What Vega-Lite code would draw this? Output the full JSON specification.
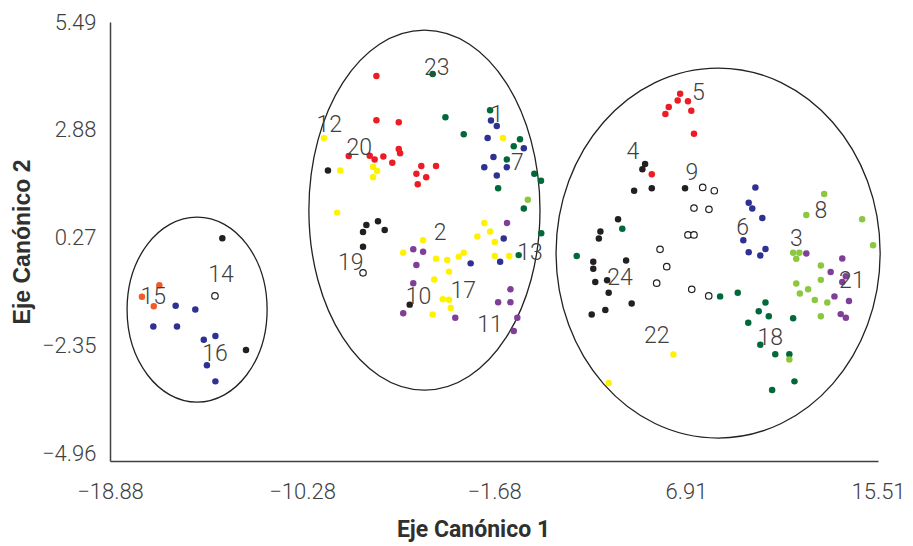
{
  "$schema": "https://vega.github.io/schema/vega-lite/v6.json",
  "width": 768,
  "height": 439,
  "autosize": "none",
  "padding": {"left": 110, "top": 22, "right": 35, "bottom": 85},
  "background": "white",
  "config": {
    "view": {"stroke": null},
    "axis": {
      "grid": false,
      "ticks": false,
      "domainColor": "#404040",
      "domainWidth": 1.5,
      "labelFont": "Roboto",
      "labelFontSize": 22,
      "labelFontWeight": 300,
      "labelColor": "#404040",
      "labelFlush": false,
      "labelOverlap": false,
      "titleFontWeight": "bold",
      "titleColor": "#303030"
    }
  },
  "datasets": {
    "puntos": [
      {"x": -13.85, "y": 0.25, "c": "negro"},
      {"x": -14.18, "y": -1.15, "c": "blanco"},
      {"x": -16.67, "y": -0.89, "c": "naranja"},
      {"x": -17.45, "y": -1.17, "c": "naranja"},
      {"x": -16.92, "y": -1.40, "c": "naranja"},
      {"x": -15.94, "y": -1.39, "c": "azul"},
      {"x": -15.06, "y": -1.48, "c": "azul"},
      {"x": -16.94, "y": -1.89, "c": "azul"},
      {"x": -15.88, "y": -1.89, "c": "azul"},
      {"x": -14.68, "y": -2.21, "c": "azul"},
      {"x": -14.16, "y": -2.12, "c": "azul"},
      {"x": -12.79, "y": -2.46, "c": "negro"},
      {"x": -14.54, "y": -2.83, "c": "azul"},
      {"x": -14.16, "y": -3.22, "c": "azul"},

      {"x": -6.95, "y": 4.18, "c": "rojo"},
      {"x": -4.43, "y": 4.23, "c": "verde"},
      {"x": -1.86, "y": 3.35, "c": "verde"},
      {"x": -1.82, "y": 3.10, "c": "azul"},
      {"x": -1.56, "y": 2.97, "c": "azul"},
      {"x": -6.95, "y": 3.11, "c": "rojo"},
      {"x": -5.95, "y": 3.06, "c": "rojo"},
      {"x": -3.86, "y": 3.18, "c": "verde"},
      {"x": -3.04, "y": 2.77, "c": "verde"},
      {"x": -9.30, "y": 2.68, "c": "amarillo"},
      {"x": -1.97, "y": 2.68, "c": "azul"},
      {"x": -1.28, "y": 2.68, "c": "amarillo"},
      {"x": -0.52, "y": 2.65, "c": "verde"},
      {"x": -0.80, "y": 2.48, "c": "verde"},
      {"x": -0.35, "y": 2.43, "c": "azul"},
      {"x": -8.19, "y": 2.24, "c": "rojo"},
      {"x": -7.25, "y": 2.25, "c": "rojo"},
      {"x": -7.03, "y": 2.16, "c": "rojo"},
      {"x": -6.64, "y": 2.23, "c": "rojo"},
      {"x": -5.95, "y": 2.41, "c": "rojo"},
      {"x": -5.89, "y": 2.31, "c": "rojo"},
      {"x": -6.24, "y": 2.08, "c": "rojo"},
      {"x": -1.71, "y": 2.22, "c": "azul"},
      {"x": -1.11, "y": 2.16, "c": "verde"},
      {"x": -2.12, "y": 1.97, "c": "azul"},
      {"x": -1.11, "y": 1.97, "c": "azul"},
      {"x": -9.12, "y": 1.89, "c": "negro"},
      {"x": -8.57, "y": 1.89, "c": "amarillo"},
      {"x": -7.10, "y": 1.98, "c": "amarillo"},
      {"x": -6.92, "y": 1.88, "c": "amarillo"},
      {"x": -7.10, "y": 1.73, "c": "amarillo"},
      {"x": -4.94, "y": 2.00, "c": "rojo"},
      {"x": -4.28, "y": 2.00, "c": "rojo"},
      {"x": -5.16, "y": 1.81, "c": "rojo"},
      {"x": -4.72, "y": 1.73, "c": "rojo"},
      {"x": -5.10, "y": 1.56, "c": "rojo"},
      {"x": -1.56, "y": 1.77, "c": "azul"},
      {"x": 0.12, "y": 1.81, "c": "verde"},
      {"x": 0.42, "y": 1.64, "c": "verde"},
      {"x": -1.50, "y": 1.46, "c": "verde"},
      {"x": -0.17, "y": 1.18, "c": "verde claro"},
      {"x": -0.35, "y": 0.97, "c": "verde"},
      {"x": -8.71, "y": 0.87, "c": "amarillo"},
      {"x": -7.40, "y": 0.57, "c": "negro"},
      {"x": -6.88, "y": 0.66, "c": "negro"},
      {"x": -6.58, "y": 0.45, "c": "negro"},
      {"x": -7.55, "y": 0.40, "c": "negro"},
      {"x": -7.55, "y": 0.04, "c": "negro"},
      {"x": -7.55, "y": -0.59, "c": "blanco"},
      {"x": -4.86, "y": 0.20, "c": "amarillo"},
      {"x": -5.75, "y": -0.10, "c": "amarillo"},
      {"x": -5.30, "y": -0.02, "c": "morado"},
      {"x": -4.86, "y": -0.08, "c": "morado"},
      {"x": -5.16, "y": -0.40, "c": "morado"},
      {"x": -4.28, "y": -0.25, "c": "amarillo"},
      {"x": -3.78, "y": -0.28, "c": "amarillo"},
      {"x": -3.26, "y": -0.20, "c": "amarillo"},
      {"x": -3.04, "y": -0.10, "c": "amarillo"},
      {"x": -2.73, "y": -0.36, "c": "azul"},
      {"x": -3.70, "y": -0.56, "c": "amarillo"},
      {"x": -4.36, "y": -0.75, "c": "amarillo"},
      {"x": -5.30, "y": -0.84, "c": "morado"},
      {"x": -5.46, "y": -1.36, "c": "negro"},
      {"x": -5.75, "y": -1.57, "c": "morado"},
      {"x": -3.98, "y": -1.23, "c": "amarillo"},
      {"x": -3.70, "y": -1.24, "c": "amarillo"},
      {"x": -3.62, "y": -1.44, "c": "amarillo"},
      {"x": -4.43, "y": -1.60, "c": "amarillo"},
      {"x": -3.42, "y": -1.68, "c": "morado"},
      {"x": -2.12, "y": 0.62, "c": "amarillo"},
      {"x": -1.10, "y": 0.62, "c": "morado"},
      {"x": -1.86, "y": 0.41, "c": "amarillo"},
      {"x": -2.43, "y": 0.29, "c": "amarillo"},
      {"x": -1.65, "y": 0.16, "c": "amarillo"},
      {"x": -1.25, "y": 0.24, "c": "azul"},
      {"x": 0.43, "y": 0.37, "c": "verde"},
      {"x": -1.65, "y": -0.18, "c": "amarillo"},
      {"x": -1.00, "y": -0.18, "c": "amarillo"},
      {"x": -0.58, "y": -0.16, "c": "verde"},
      {"x": -1.41, "y": -0.32, "c": "azul"},
      {"x": -0.95, "y": -0.99, "c": "morado"},
      {"x": -1.50, "y": -1.30, "c": "morado"},
      {"x": -0.95, "y": -1.30, "c": "morado"},
      {"x": -0.64, "y": -1.68, "c": "morado"},
      {"x": -0.80, "y": -2.00, "c": "morado"},

      {"x": 6.65, "y": 3.75, "c": "rojo"},
      {"x": 6.54, "y": 3.59, "c": "rojo"},
      {"x": 7.00, "y": 3.57, "c": "rojo"},
      {"x": 6.14, "y": 3.43, "c": "rojo"},
      {"x": 5.99, "y": 3.26, "c": "rojo"},
      {"x": 7.15, "y": 3.34, "c": "rojo"},
      {"x": 7.27, "y": 2.78, "c": "rojo"},
      {"x": 5.08, "y": 2.05, "c": "negro"},
      {"x": 4.96, "y": 1.92, "c": "negro"},
      {"x": 5.38, "y": 1.80, "c": "rojo"},
      {"x": 4.59, "y": 1.40, "c": "negro"},
      {"x": 5.38, "y": 1.46, "c": "negro"},
      {"x": 6.87, "y": 1.46, "c": "negro"},
      {"x": 7.66, "y": 1.48, "c": "blanco"},
      {"x": 8.18, "y": 1.40, "c": "blanco"},
      {"x": 7.27, "y": 0.98, "c": "blanco"},
      {"x": 7.94, "y": 0.95, "c": "blanco"},
      {"x": 3.87, "y": 0.71, "c": "negro"},
      {"x": 4.06, "y": 0.48, "c": "verde"},
      {"x": 3.08, "y": 0.41, "c": "negro"},
      {"x": 3.01, "y": 0.24, "c": "negro"},
      {"x": 7.00, "y": 0.33, "c": "blanco"},
      {"x": 7.27, "y": 0.33, "c": "blanco"},
      {"x": 5.75, "y": -0.02, "c": "blanco"},
      {"x": 2.02, "y": -0.18, "c": "verde"},
      {"x": 2.76, "y": -0.32, "c": "negro"},
      {"x": 2.76, "y": -0.49, "c": "negro"},
      {"x": 4.23, "y": -0.29, "c": "negro"},
      {"x": 6.05, "y": -0.44, "c": "blanco"},
      {"x": 2.85, "y": -0.81, "c": "negro"},
      {"x": 3.38, "y": -0.77, "c": "negro"},
      {"x": 3.45, "y": -1.07, "c": "negro"},
      {"x": 4.48, "y": -1.33, "c": "negro"},
      {"x": 2.69, "y": -1.60, "c": "negro"},
      {"x": 3.30, "y": -1.49, "c": "negro"},
      {"x": 5.60, "y": -0.84, "c": "blanco"},
      {"x": 7.17, "y": -0.99, "c": "blanco"},
      {"x": 7.93, "y": -1.15, "c": "blanco"},
      {"x": 8.44, "y": -1.16, "c": "verde"},
      {"x": 9.23, "y": -1.07, "c": "verde"},
      {"x": 9.70, "y": -1.80, "c": "verde"},
      {"x": 6.35, "y": -2.57, "c": "amarillo"},
      {"x": 3.45, "y": -3.26, "c": "amarillo"},
      {"x": 10.02, "y": 1.48, "c": "azul"},
      {"x": 9.72, "y": 1.11, "c": "azul"},
      {"x": 9.88, "y": 0.97, "c": "azul"},
      {"x": 10.33, "y": 0.74, "c": "azul"},
      {"x": 9.48, "y": 0.20, "c": "azul"},
      {"x": 9.72, "y": -0.09, "c": "azul"},
      {"x": 10.47, "y": -0.01, "c": "azul"},
      {"x": 10.24, "y": -0.17, "c": "azul"},
      {"x": 13.10, "y": 1.32, "c": "verde claro"},
      {"x": 12.30, "y": 0.81, "c": "verde claro"},
      {"x": 14.80, "y": 0.71, "c": "verde claro"},
      {"x": 15.29, "y": 0.08, "c": "verde claro"},
      {"x": 11.71, "y": -0.10, "c": "verde claro"},
      {"x": 11.99, "y": -0.10, "c": "verde claro"},
      {"x": 11.85, "y": -0.25, "c": "verde claro"},
      {"x": 12.30, "y": -0.12, "c": "morado"},
      {"x": 13.91, "y": -0.24, "c": "morado"},
      {"x": 12.95, "y": -0.41, "c": "verde claro"},
      {"x": 13.39, "y": -0.57, "c": "morado"},
      {"x": 14.07, "y": -0.67, "c": "morado"},
      {"x": 13.91, "y": -0.81, "c": "morado"},
      {"x": 12.95, "y": -0.76, "c": "verde claro"},
      {"x": 11.85, "y": -0.85, "c": "verde claro"},
      {"x": 12.38, "y": -0.99, "c": "verde claro"},
      {"x": 12.01, "y": -1.09, "c": "verde claro"},
      {"x": 12.68, "y": -1.25, "c": "verde claro"},
      {"x": 13.24, "y": -1.31, "c": "verde claro"},
      {"x": 13.56, "y": -1.16, "c": "morado"},
      {"x": 14.21, "y": -1.27, "c": "morado"},
      {"x": 12.95, "y": -1.64, "c": "verde claro"},
      {"x": 13.84, "y": -1.59, "c": "morado"},
      {"x": 14.07, "y": -1.68, "c": "morado"},
      {"x": 10.47, "y": -1.31, "c": "verde"},
      {"x": 10.17, "y": -1.52, "c": "verde"},
      {"x": 10.62, "y": -1.64, "c": "verde"},
      {"x": 11.71, "y": -1.69, "c": "verde"},
      {"x": 10.24, "y": -2.33, "c": "verde"},
      {"x": 10.91, "y": -2.56, "c": "verde"},
      {"x": 11.54, "y": -2.56, "c": "verde"},
      {"x": 11.54, "y": -2.69, "c": "verde claro"},
      {"x": 11.77, "y": -3.22, "c": "verde"},
      {"x": 10.77, "y": -3.43, "c": "verde"}
    ],
    "etiquetas": [
      {"x": -13.91, "y": -0.64, "t": "14"},
      {"x": -16.94, "y": -1.17, "t": "15"},
      {"x": -14.18, "y": -2.56, "t": "16"},
      {"x": -4.25, "y": 4.38, "t": "23"},
      {"x": -1.56, "y": 3.24, "t": "1"},
      {"x": -9.06, "y": 2.99, "t": "12"},
      {"x": -7.72, "y": 2.43, "t": "20"},
      {"x": -0.64, "y": 2.08, "t": "7"},
      {"x": -8.10, "y": -0.36, "t": "19"},
      {"x": -4.10, "y": 0.37, "t": "2"},
      {"x": -5.07, "y": -1.17, "t": "10"},
      {"x": -3.06, "y": -1.03, "t": "17"},
      {"x": -0.07, "y": -0.12, "t": "13"},
      {"x": -1.86, "y": -1.86, "t": "11"},
      {"x": 7.47, "y": 3.76, "t": "5"},
      {"x": 4.53, "y": 2.35, "t": "4"},
      {"x": 7.17, "y": 1.82, "t": "9"},
      {"x": 9.45, "y": 0.49, "t": "6"},
      {"x": 12.95, "y": 0.91, "t": "8"},
      {"x": 11.85, "y": 0.22, "t": "3"},
      {"x": 14.34, "y": -0.78, "t": "21"},
      {"x": 3.96, "y": -0.72, "t": "24"},
      {"x": 5.60, "y": -2.12, "t": "22"},
      {"x": 10.68, "y": -2.18, "t": "18"}
    ],
    "elipses": [
      {"x": -14.98, "y": -1.48, "g": "A"},
      {"x": -4.80, "y": 0.93, "g": "B"},
      {"x": 8.35, "y": -0.11, "g": "C"}
    ]
  },
  "encoding": {
    "x": {
      "field": "x", "type": "quantitative",
      "scale": {"domain": [-18.88, 15.51], "nice": false, "zero": false},
      "axis": {"title": "Eje Canónico 1", "values": [-18.88, -10.28, -1.68, 6.91, 15.51], "format": ".2f", "labelPadding": 20, "titlePadding": 16,
        "titleFont": "Roboto", "titleFontSize": 23, "titleX": 363}
    },
    "y": {
      "field": "y", "type": "quantitative",
      "scale": {"domain": [-5.15, 5.49], "nice": false, "zero": false},
      "axis": {"title": "Eje Canónico 2", "values": [-4.96, -2.35, 0.27, 2.88, 5.49], "format": ".2f", "labelPadding": 14, "titlePadding": 7,
        "titleFont": "Liberation Sans", "titleFontSize": 23}
    }
  },
  "layer": [
    {
      "data": {"name": "elipses"},
      "transform": [{"filter": "datum.g === 'A'"}],
      "mark": {"type": "point", "filled": false, "stroke": "#222222", "strokeWidth": 1.3, "opacity": 1, "size": 34225,
        "shape": "M0.757,0C0.757,0.5523 0.418,1 0,1C-0.418,1 -0.757,0.5523 -0.757,0C-0.757,-0.5523 -0.418,-1 0,-1C0.418,-1 0.757,-0.5523 0.757,0Z"}
    },
    {
      "data": {"name": "elipses"},
      "transform": [{"filter": "datum.g === 'B'"}],
      "mark": {"type": "point", "filled": false, "stroke": "#222222", "strokeWidth": 1.3, "opacity": 1, "size": 129600,
        "shape": "M0.642,0C0.642,0.5523 0.3546,1 0,1C-0.3546,1 -0.642,0.5523 -0.642,0C-0.642,-0.5523 -0.3546,-1 0,-1C0.3546,-1 0.642,-0.5523 0.642,0Z"}
    },
    {
      "data": {"name": "elipses"},
      "transform": [{"filter": "datum.g === 'C'"}],
      "mark": {"type": "point", "filled": false, "stroke": "#222222", "strokeWidth": 1.3, "opacity": 1, "size": 136900,
        "shape": "M0.876,0C0.876,0.5523 0.4838,1 0,1C-0.4838,1 -0.876,0.5523 -0.876,0C-0.876,-0.5523 -0.4838,-1 0,-1C0.4838,-1 0.876,-0.5523 0.876,0Z"}
    },
    {
      "data": {"name": "puntos"},
      "mark": {"type": "circle", "size": 42, "opacity": 1, "strokeWidth": 1.2},
      "encoding": {
        "fill": {"field": "c", "type": "nominal", "legend": null,
          "scale": {"domain": ["rojo", "amarillo", "verde", "azul", "morado", "negro", "naranja", "verde claro", "blanco"],
                    "range": ["#ED1C24", "#FFF200", "#00693A", "#2E3192", "#7F3F98", "#231F20", "#F15A29", "#8DC63F", "#FFFFFF"]}},
        "stroke": {"field": "c", "type": "nominal", "legend": null,
          "scale": {"domain": ["rojo", "amarillo", "verde", "azul", "morado", "negro", "naranja", "verde claro", "blanco"],
                    "range": ["transparent", "transparent", "transparent", "transparent", "transparent", "transparent", "transparent", "transparent", "#231F20"]}}
      }
    },
    {
      "data": {"name": "etiquetas"},
      "mark": {"type": "text", "font": "Roboto", "fontSize": 23, "fontWeight": 300, "color": "#404040", "align": "center", "baseline": "middle"},
      "encoding": {"text": {"field": "t", "type": "nominal"}}
    }
  ]
}
